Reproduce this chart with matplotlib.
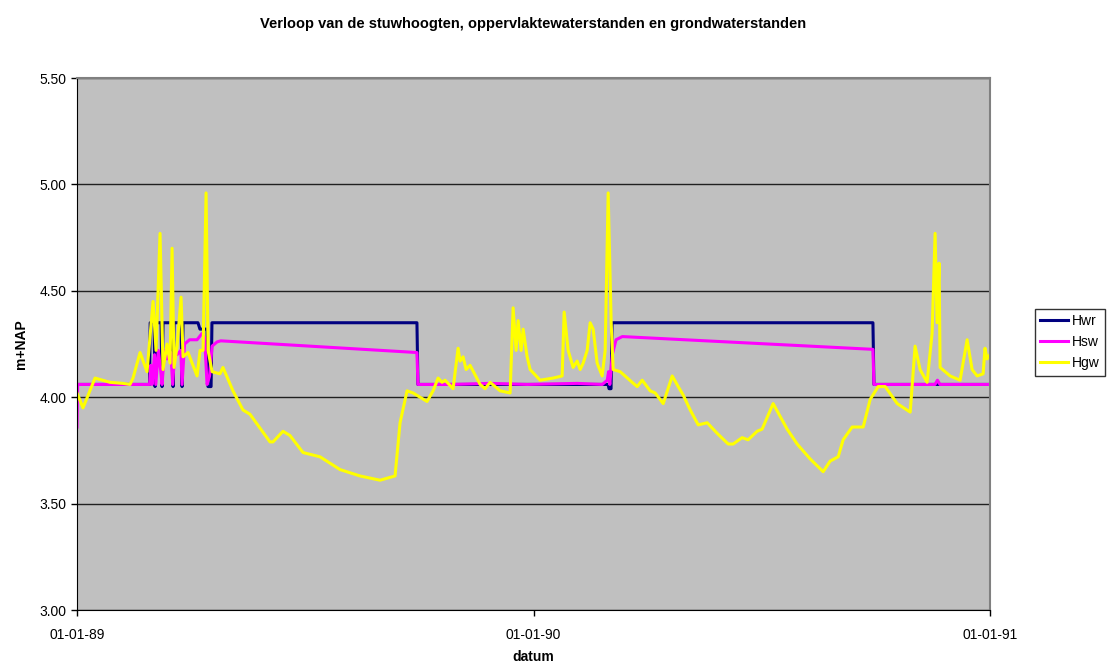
import numpy as np
import matplotlib
matplotlib.use("Agg")
from matplotlib import pyplot as plt
import matplotlib.dates as mdates

plt.rcParams['font.family'] = ['Liberation Sans', 'DejaVu Sans']

start = np.datetime64('1989-01-01')

# days since 01-01-89 and levels (m+NAP)
hwr_days = [0, 58, 58.5, 61.6, 62.4, 63.2, 67.2, 68.0, 68.8, 76.0, 76.8, 77.6,
            83.2, 84.0, 84.8, 96.7, 98.3, 100.7, 104.0, 104.7, 107.2, 107.9,
            271.8, 272.6, 424.6, 425.4, 427.0, 427.8, 636.4, 637.2, 730]
hwr_vals = [4.06, 4.06, 4.35, 4.35, 4.05, 4.35, 4.35, 4.05, 4.35, 4.35, 4.05, 4.35,
            4.35, 4.05, 4.35, 4.35, 4.32, 4.32, 4.32, 4.05, 4.05, 4.35,
            4.35, 4.06, 4.06, 4.04, 4.04, 4.35, 4.35, 4.06, 4.06]

hsw_days = [0, 0.5, 58, 59, 60, 62, 63, 65, 67, 68, 70, 72, 75, 76.5, 78, 80, 83,
            84, 86, 90, 96, 100, 102, 104, 106, 108, 112, 115, 271.8, 272.6,
            300, 330, 360, 400, 420, 424, 425, 426, 428, 431, 436, 636.4, 637.2,
            686, 688, 690, 730]
hsw_vals = [3.86, 4.06, 4.06, 4.15, 4.06, 4.20, 4.06, 4.22, 4.12, 4.06, 4.22, 4.18,
            4.21, 4.06, 4.20, 4.20, 4.22, 4.06, 4.25, 4.27, 4.27, 4.30, 4.28, 4.06,
            4.10, 4.24, 4.26, 4.265, 4.21, 4.06,
            4.06, 4.065, 4.06, 4.065, 4.06, 4.08, 4.12, 4.06, 4.20, 4.27, 4.285,
            4.225, 4.06, 4.06, 4.08, 4.06, 4.06]

hgw_days = [0, 4.8, 14.4, 26.4, 36.8, 42.4, 44.8, 50.4, 56.0, 60.8, 63.2, 66.4,
            68.8, 72.0, 74.4, 76.0, 77.6, 80.0, 83.2, 84.8, 88.8, 96.0, 98.4,
            100.8, 103.2, 104.8, 108.0, 114.3, 116.7, 124.7, 132.7, 138.3, 154.3,
            156.7, 164.7, 170.3, 180.7, 194.3, 210.3, 226.3, 242.3, 254.3, 258.3,
            263.9, 268.7, 279.9, 284.7, 288.7, 291.9, 294.3, 300.7, 304.7, 306.3,
            308.7, 311.1, 314.3, 322.3, 326.3, 330.3, 338.3, 346.3, 348.7, 351.1,
            352.7, 355.1, 356.7, 359.9, 362.3, 370.3, 380.7, 387.9, 389.5, 392.7,
            396.7, 399.9, 402.3, 404.7, 407.9, 410.3, 412.7, 415.9, 419.9, 422.3,
            424.7, 427.1, 428.7, 434.3, 443.9, 447.9, 451.9, 458.3, 462.3, 468.7,
            475.9, 480.7, 484.7, 490.3, 496.7, 503.9, 511.9, 520.7, 524.6, 531.8,
            536.6, 543.8, 547.8, 556.6, 567.8, 575.8, 586.2, 596.6, 602.2, 608.6,
            612.6, 619.8, 628.6, 634.2, 640.6, 646.2, 655.8, 666.2, 670.1, 674.1,
            679.7, 683.7, 686.1, 687.7, 689.3, 690.1, 698.1, 706.1, 711.7, 715.7,
            719.7, 724.5, 726.0, 727.6, 730]
hgw_vals = [4.02, 3.95, 4.09, 4.07, 4.065, 4.06, 4.09, 4.21, 4.12, 4.45, 4.22, 4.77,
            4.13, 4.25, 4.16, 4.70, 4.14, 4.24, 4.47, 4.19, 4.21, 4.10, 4.22,
            4.22, 4.96, 4.22, 4.12, 4.11, 4.14, 4.03, 3.94, 3.92, 3.79,
            3.79, 3.84, 3.82, 3.74, 3.72, 3.66, 3.63, 3.61, 3.63, 3.88,
            4.03, 4.02, 3.98, 4.03, 4.09, 4.07, 4.08, 4.04, 4.23, 4.17,
            4.19, 4.13, 4.15, 4.06, 4.04, 4.07, 4.03, 4.02, 4.42, 4.22,
            4.36, 4.22, 4.32, 4.19, 4.13, 4.08, 4.09, 4.10, 4.40, 4.22,
            4.14, 4.17, 4.13, 4.16, 4.22, 4.35, 4.32, 4.16, 4.10, 4.22,
            4.96, 4.35, 4.13, 4.12, 4.07, 4.05, 4.08, 4.03, 4.02, 3.97,
            4.10, 4.05, 4.01, 3.94, 3.87, 3.88, 3.83, 3.78, 3.78, 3.81,
            3.80, 3.84, 3.85, 3.97, 3.85, 3.78, 3.71, 3.65, 3.70, 3.72,
            3.80, 3.86, 3.86, 3.99, 4.05, 4.05, 3.97, 3.93, 4.24, 4.13,
            4.07, 4.30, 4.77, 4.35, 4.63, 4.14, 4.10, 4.08, 4.27, 4.13,
            4.10, 4.11, 4.23, 4.18, 4.20]


def to_dates(days):
    return start + (np.array(days) * 24 * 60).astype('timedelta64[m]')


fig = plt.figure(figsize=(11.08, 6.64), dpi=100)
ax = fig.add_axes([0.0695, 0.0813, 0.824, 0.8012])
ax.set_facecolor('#C0C0C0')

ax.plot(to_dates(hwr_days), hwr_vals, color='#000080', lw=2.2, label='Hwr',
        solid_joinstyle='round')
ax.plot(to_dates(hsw_days), hsw_vals, color='#FF00FF', lw=2.2, label='Hsw',
        solid_joinstyle='round')
ax.plot(to_dates(hgw_days), hgw_vals, color='#FFFF00', lw=2.2, label='Hgw',
        solid_joinstyle='round')

ax.set_ylim(3.0, 5.5)
ax.set_yticks(np.arange(3.0, 5.51, 0.5))
ax.yaxis.set_major_formatter(plt.FormatStrFormatter('%.2f'))
ax.set_xlim(start, np.datetime64('1991-01-01'))
ax.set_xticks([np.datetime64('1989-01-01'), np.datetime64('1990-01-01'),
               np.datetime64('1991-01-01')])
ax.xaxis.set_major_formatter(mdates.DateFormatter('%d-%m-%y'))
ax.grid(axis='y', color='#202020', lw=1)
ax.set_axisbelow(True)
ax.tick_params(direction='out', length=4, width=1, labelsize=10, colors='black')
ax.tick_params(axis='x', pad=9)
for s in ['top', 'right']:
    ax.spines[s].set_color('#808080')
    ax.spines[s].set_linewidth(1.5)

ax.set_title('Verloop van de stuwhoogten, oppervlaktewaterstanden en grondwaterstanden',
             fontsize=10.5, fontweight='bold', pad=36)
ax.set_xlabel('datum', fontsize=10, fontweight='bold', labelpad=6)
ax.set_ylabel('m+NAP', fontsize=10, fontweight='bold', labelpad=8)

leg = fig.legend(loc='upper left', bbox_to_anchor=(0.934, 0.535), fontsize=10,
                 frameon=True, fancybox=False, handlelength=2.0, borderpad=0.4,
                 labelspacing=0.5, handletextpad=0.25, borderaxespad=0)
leg.get_frame().set_edgecolor('black')
leg.get_frame().set_linewidth(1)

fig.savefig('out.png', dpi=100)
